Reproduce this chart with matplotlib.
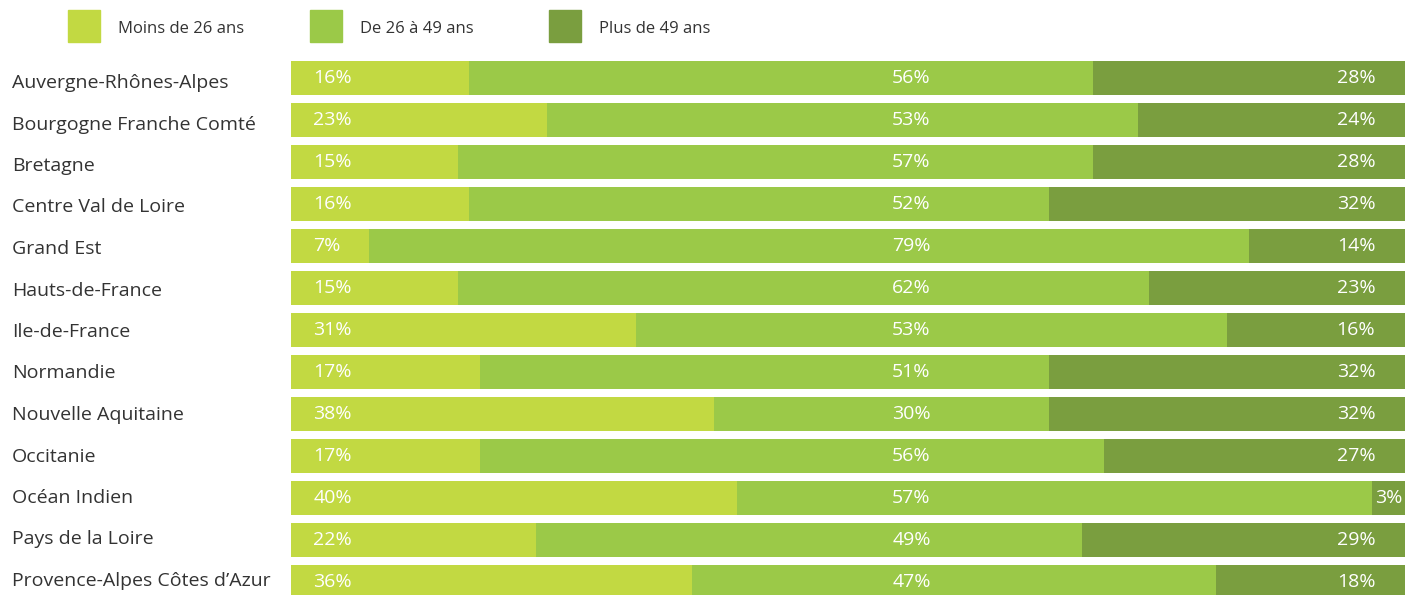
"""Age breakdown by region, horizontal 100% stacked bars."""

import matplotlib

matplotlib.use("Agg")
import matplotlib.pyplot as plt
from matplotlib.patches import Rectangle

regions = [
    "Auvergne-Rhônes-Alpes",
    "Bourgogne Franche Comté",
    "Bretagne",
    "Centre Val de Loire",
    "Grand Est",
    "Hauts-de-France",
    "Ile-de-France",
    "Normandie",
    "Nouvelle Aquitaine",
    "Occitanie",
    "Océan Indien",
    "Pays de la Loire",
    "Provence-Alpes Côtes d’Azur",
]
moins_26 = [16, 23, 15, 16, 7, 15, 31, 17, 38, 17, 40, 22, 36]
de_26_49 = [56, 53, 57, 52, 79, 62, 53, 51, 30, 56, 57, 49, 47]
plus_49 = [28, 24, 28, 32, 14, 23, 16, 32, 32, 27, 3, 29, 18]

series_names = ["Moins de 26 ans", "De 26 à 49 ans", "Plus de 49 ans"]
colors = ["#c2d942", "#9bc948", "#7a9e3f"]

W, H = 1405, 595
plt.rcParams["font.family"] = ["Open Sans", "DejaVu Sans"]

fig = plt.figure(figsize=(W / 100, H / 100), dpi=100)

# bars occupy x 291..1405 px, rows pitch 42 px, first bar top at 61 px
ax = fig.add_axes([291 / W, 0, 1114 / W, 534 / H])
bar_h = 34 / 42
ax.set_ylim((595 - 78) / 42, -(78 - 61) / 42)
ax.set_xlim(0, 100)
ax.axis("off")

ys = list(range(len(regions)))
left = [0] * len(regions)
for k, vals in enumerate([moins_26, de_26_49, plus_49]):
    ax.barh(ys, vals, left=left, height=bar_h, color=colors[k], edgecolor="none")
    left = [a + b for a, b in zip(left, vals)]

for i, y in enumerate(ys):
    ax.text(2, y, f"{moins_26[i]}%", color="white", fontsize=14,
            ha="left", va="center")
    ax.text(55.7, y, f"{de_26_49[i]}%", color="white", fontsize=14,
            ha="center", va="center")
    # narrow last segment: keep the label inside it
    seg_start = moins_26[i] + de_26_49[i]
    x_last = max(95.6, seg_start + plus_49[i] / 2)
    ax.text(x_last, y, f"{plus_49[i]}%", color="white", fontsize=14,
            ha="center", va="center")
    # region name on the left (slightly tighter pitch so the last one fits)
    fig.text(12 / W, 1 - (83 + 41.5 * i) / H, regions[i], color="#333333",
             fontsize=14, ha="left", va="center")

# legend across the top
legend_x = [68, 310, 549]
for k, name in enumerate(series_names):
    fig.patches.append(Rectangle((legend_x[k] / W, 1 - 42 / H), 32 / W, 32 / H,
                                 transform=fig.transFigure, color=colors[k]))
    fig.text((legend_x[k] + 50) / W, 1 - 29 / H, name, color="#333333",
             fontsize=12, ha="left", va="center")

fig.savefig("out.png", dpi=100)
